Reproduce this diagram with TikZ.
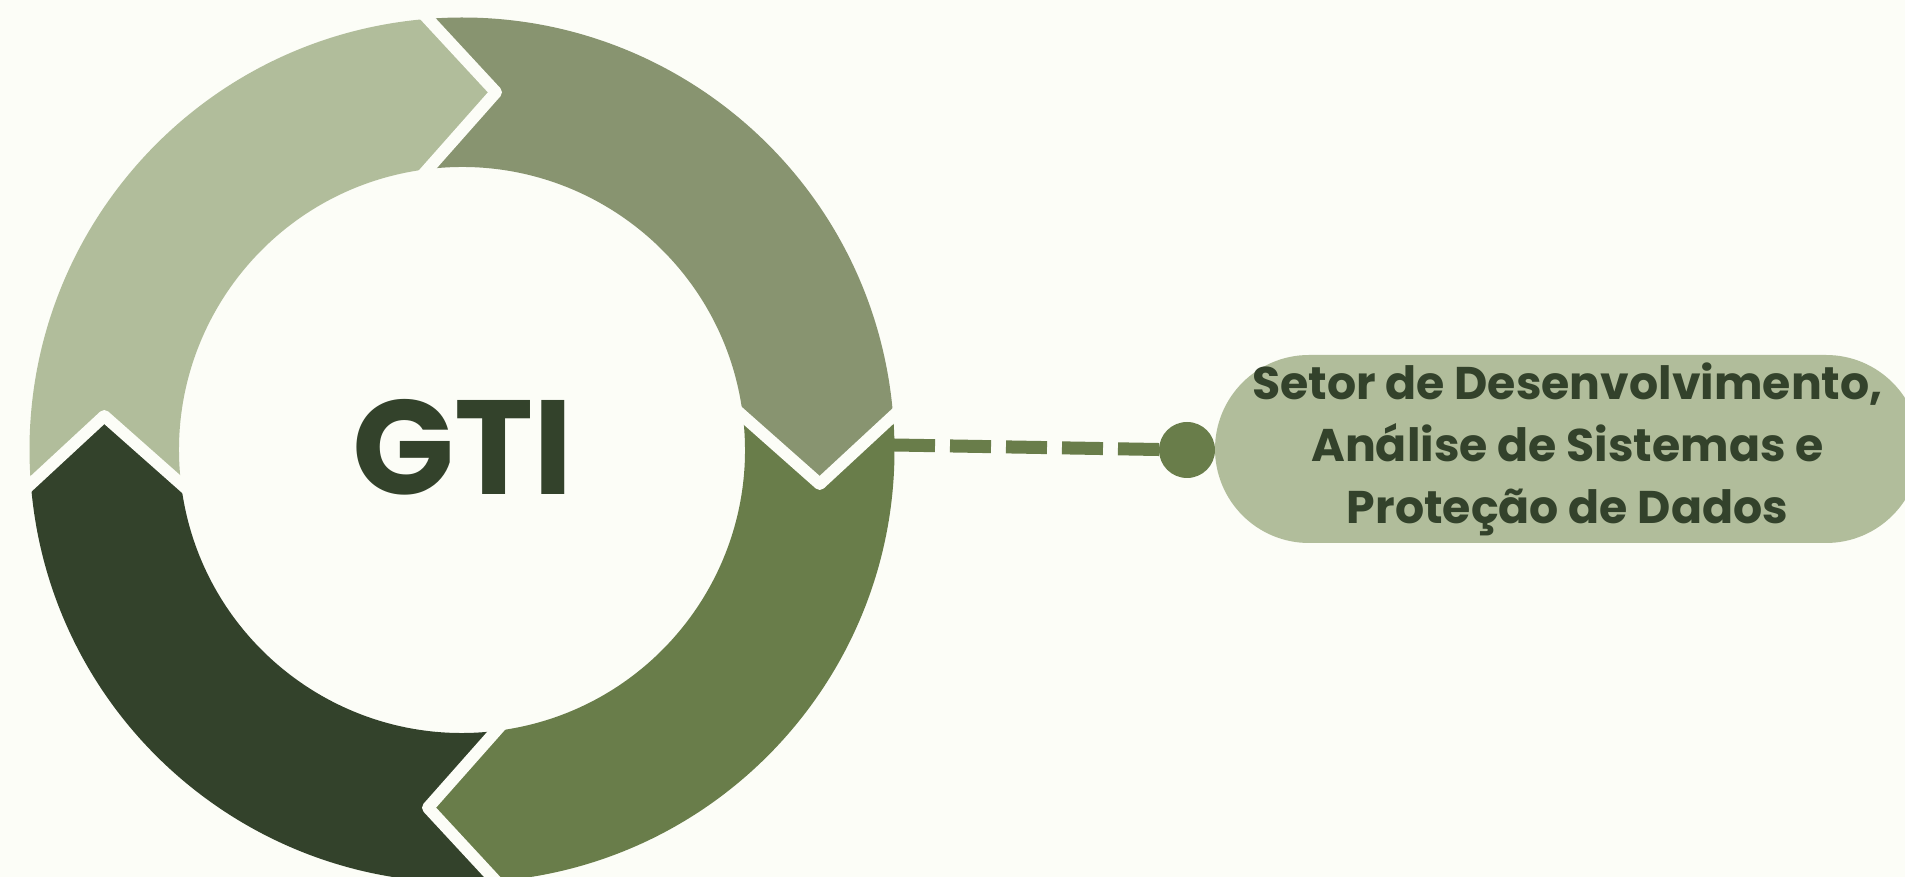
\documentclass[tikz,border=0pt]{standalone}
\usepackage{fontspec}
\setmainfont{Poppins}
\usetikzlibrary{calc}
\definecolor{bgc}{HTML}{FCFDF7}
\definecolor{segA}{HTML}{B1BD9B}
\definecolor{segB}{HTML}{889470}
\definecolor{segC}{HTML}{697D4A}
\definecolor{segD}{HTML}{33422B}
\tikzset{
  gapline/.style={draw=bgc, line width=6pt, line join=round},
  conn/.style={draw=segC, line width=6.5pt, dash pattern=on 20.5pt off 7.5pt},
  dotnode/.style={circle, fill=segC, minimum size=28pt, inner sep=0pt},
  pill/.style={fill=segA, rounded corners=47pt, minimum width=352.5pt, minimum height=94pt,
    inner sep=0pt, align=center, text=segD, font=\bfseries\fontsize{22.9}{31}\selectfont},
  title/.style={text=segD, font=\bfseries\fontsize{67}{67}\selectfont, inner sep=0pt}
}
\begin{document}
\begin{tikzpicture}[x=0.5pt,y=0.5pt]
\useasboundingbox (0,0) rectangle (1905,877);
\fill[bgc] (0,0) rectangle (1905,877);
\pgfmathsetmacro\Ro{432.5}
\pgfmathsetmacro\Ri{283}
\pgfmathsetmacro\dd{34}
\pgfmathsetmacro\Rm{(\Ro+\Ri)/2}
\pgfmathsetmacro\aR{asin(\dd/\Ro)}
\pgfmathsetmacro\ar{asin(\dd/\Ri)}
\pgfmathsetmacro\at{atan(\dd/\Rm)}
\pgfmathsetmacro\rt{veclen(\Rm,\dd)}
\begin{scope}[shift={(462,427)}]
  \foreach \ph/\col in {0/segB, -90/segC, -180/segD, 90/segA}{
    \fill[\col] ({90+\aR+\ph}:\Ro) arc[start angle={90+\aR+\ph}, end angle={\aR+\ph}, radius=\Ro]
      -- ({-\at+\ph}:\rt) -- ({\ar+\ph}:\Ri)
      arc[start angle={\ar+\ph}, end angle={90+\ar+\ph}, radius=\Ri]
      -- ({90-\at+\ph}:\rt) -- cycle;
  }
  \foreach \ph in {0,-90,-180,90}{
    \coordinate (tip) at ({90-\at+\ph}:\rt);
    \coordinate (po) at ({90+\aR+\ph}:\Ro);
    \coordinate (pi) at ({90+\ar+\ph}:\Ri);
    \draw[gapline] ($(tip)!1.15!(po)$) -- (tip) -- ($(tip)!1.15!(pi)$);
  }
\end{scope}
\node[title] (gti) at (463,430) {GTI};
\coordinate (ringedge) at (894,432);
\coordinate (dotc) at (1187,427);
\draw[conn] (ringedge) -- (dotc);
\node[dotnode] (dot) at (dotc) {};
\node[pill] (pill) at (1567.5,428) {Setor de Desenvolvimento,\\Análise de Sistemas e\\Proteção de Dados};
\end{tikzpicture}
\end{document}
